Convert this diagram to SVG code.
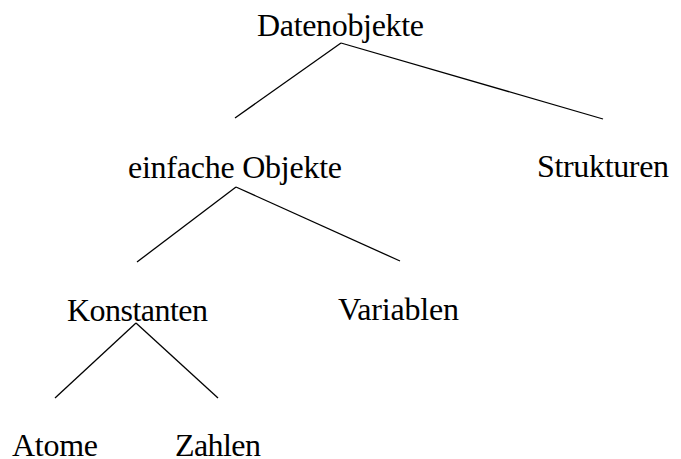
<svg xmlns="http://www.w3.org/2000/svg" width="681" height="459" viewBox="0 0 681 459">
<style>
text{font-family:"Liberation Serif","Times New Roman",serif;font-size:32px;fill:#000}
line{stroke:#000;stroke-width:1.3}
</style>
<rect width="681" height="459" fill="#fff"/>
<g id="connectors">
<line x1="341" y1="43" x2="235" y2="118"/>
<line x1="341" y1="43" x2="603" y2="119"/>
<line x1="236" y1="187" x2="137" y2="262"/>
<line x1="236" y1="187" x2="400" y2="261"/>
<line x1="136" y1="323" x2="55" y2="398"/>
<line x1="136" y1="323" x2="218" y2="398"/>
</g>
<g id="datenobjekte"><text x="257" y="36" textLength="167">Datenobjekte</text></g>
<g id="einfache"><text x="128" y="178" textLength="214">einfache Objekte</text></g>
<g id="strukturen"><text x="537" y="177" textLength="132">Strukturen</text></g>
<g id="konstanten"><text x="67" y="321" textLength="141">Konstanten</text></g>
<g id="variablen"><text x="338" y="320" textLength="121">Variablen</text></g>
<g id="atome"><text x="12" y="456" textLength="86">Atome</text></g>
<g id="zahlen"><text x="175" y="456" textLength="86">Zahlen</text></g>
</svg>
